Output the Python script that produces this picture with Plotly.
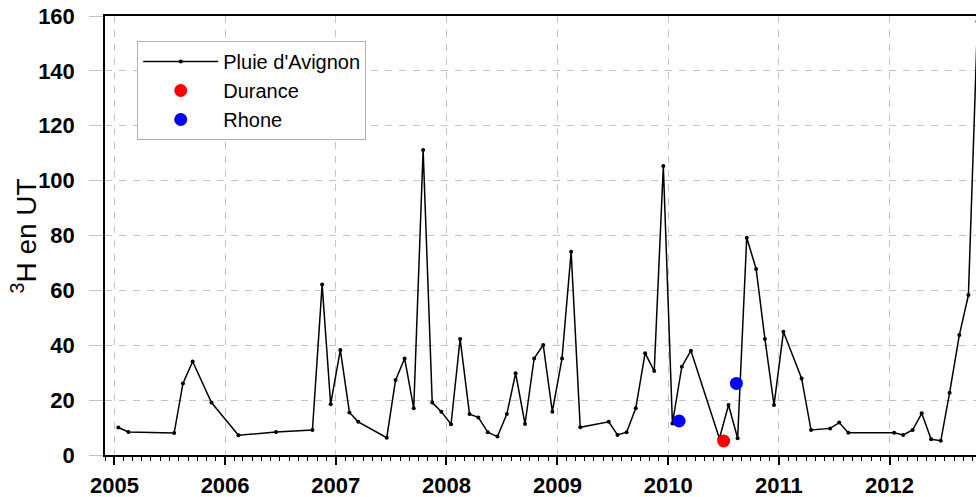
import plotly.graph_objects as go

# ---- data ----
pluie_dates = [
    "2005-01-14", "2005-02-16", "2005-07-17", "2005-08-15", "2005-09-16", "2005-11-17",
    "2006-02-14", "2006-06-18", "2006-10-16", "2006-11-17", "2006-12-15",
    "2007-01-16", "2007-02-15", "2007-03-16", "2007-06-18", "2007-07-17", "2007-08-16",
    "2007-09-15", "2007-10-16", "2007-11-15", "2007-12-15",
    "2008-01-16", "2008-02-15", "2008-03-17", "2008-04-15", "2008-05-16", "2008-06-17",
    "2008-07-18", "2008-08-16", "2008-09-16", "2008-10-16", "2008-11-15", "2008-12-15",
    "2009-01-16", "2009-02-15", "2009-03-17", "2009-06-19", "2009-07-18", "2009-08-17",
    "2009-09-16", "2009-10-17", "2009-11-16", "2009-12-16",
    "2010-01-15", "2010-02-15", "2010-03-17", "2010-06-19", "2010-07-19", "2010-08-18",
    "2010-09-17", "2010-10-18", "2010-11-16", "2010-12-16",
    "2011-01-16", "2011-03-17", "2011-04-17", "2011-06-19", "2011-07-19", "2011-08-18",
    "2012-01-16", "2012-02-15", "2012-03-17", "2012-04-16", "2012-05-17", "2012-06-18",
    "2012-07-17", "2012-08-18", "2012-09-17", "2012-10-17",
]
pluie_values = [
    10.0, 8.4, 8.0, 26.1, 34.1, 19.1,
    7.2, 8.4, 9.1, 62.1, 18.5,
    38.3, 15.5, 12.1, 6.3, 27.3, 35.2,
    17.0, 111.2, 19.1, 15.8,
    11.2, 42.3, 14.9, 13.7, 8.3, 6.7,
    14.9, 29.8, 11.3, 35.2, 40.1, 15.8,
    35.2, 74.1, 10.1, 12.1, 7.3, 8.3,
    17.0, 37.1, 30.6, 105.3,
    11.5, 32.2, 38.0, 6.0, 18.2, 6.1,
    79.2, 67.8, 42.3, 18.2,
    44.9, 27.9, 9.1, 9.7, 11.8, 8.1,
    8.1, 7.3, 9.1, 15.2, 5.7, 5.2,
    22.7, 43.7, 58.3, 158.0,
]

durance_dates = ["2010-07-03"]
durance_values = [5.1]

rhone_dates = ["2010-02-06", "2010-08-14"]
rhone_values = [12.4, 26.1]

y_ticks = [0, 20, 40, 60, 80, 100, 120, 140, 160]
y_title = "<sup>3</sup>H en UT"

FONT = "Liberation Sans, Arial, sans-serif"
GRID = "#c4c4c4"

fig = go.Figure()
fig.add_trace(go.Scatter(
    x=pluie_dates, y=pluie_values, name="Pluie d'Avignon",
    mode="lines+markers",
    line=dict(color="black", width=1.5),
    marker=dict(color="black", size=4),
))
fig.add_trace(go.Scatter(
    x=durance_dates, y=durance_values, name="Durance",
    mode="markers", marker=dict(color="#ff0000", size=13),
))
fig.add_trace(go.Scatter(
    x=rhone_dates, y=rhone_values, name="Rhone",
    mode="markers", marker=dict(color="#0000ff", size=13),
))

fig.update_layout(
    width=976, height=497,
    margin=dict(l=105, r=0, t=16, b=42, autoexpand=False),
    paper_bgcolor="white", plot_bgcolor="white",
    font=dict(family=FONT, color="black"),
    showlegend=True,
    legend=dict(
        x=0.037, y=0.943, xanchor="left", yanchor="top",
        bgcolor="white", bordercolor="#b0b0b0", borderwidth=1,
        font=dict(family=FONT, size=20, color="black"),
        tracegroupgap=0, itemsizing="trace", itemwidth=75,
    ),
    annotations=[dict(
        text=y_title, textangle=-90, showarrow=False,
        xref="paper", yref="paper", x=-0.093, y=0.5,
        xanchor="center", yanchor="middle",
        font=dict(family=FONT, size=28, color="black"),
    )],
)

fig.update_xaxes(
    type="date", automargin=False,
    range=["2004-12-01", "2012-10-12"],
    tick0="2005-01-01", dtick="M12", tickformat="%Y",
    ticks="outside", ticklen=8, tickwidth=1.5, tickcolor="black",
    ticklabelstandoff=2,
    tickfont=dict(family=FONT, size=22, weight="bold", color="black"),
    showline=True, linecolor="black", linewidth=1.5, mirror=True,
    showgrid=True, gridcolor=GRID, gridwidth=1, griddash="7px,7px",
    minor=dict(dtick="M1", ticks="outside", ticklen=4, tickwidth=1,
               tickcolor="black", showgrid=False),
    zeroline=False,
)

fig.update_yaxes(
    automargin=False,
    range=[0, 160], tickvals=y_ticks,
    ticks="outside", ticklen=14, tickwidth=1, tickcolor=GRID,
    ticklabelstandoff=10,
    tickfont=dict(family=FONT, size=22, weight="bold", color="black"),
    showline=True, linecolor="black", linewidth=1.5,
    showgrid=True, gridcolor=GRID, gridwidth=1, griddash="7px,7px",
    zeroline=False,
)

fig.write_html("out.html", config={"displayModeBar": False},
               post_script="document.body.style.margin='0';")
